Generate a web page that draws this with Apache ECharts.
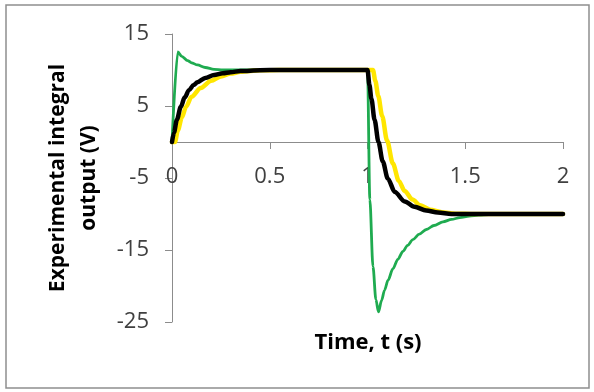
<!DOCTYPE html>
<html>
<head>
<meta charset="utf-8">
<script src="https://cdn.jsdelivr.net/npm/echarts@6/dist/echarts.min.js"></script>
<style>
  html, body { margin: 0; padding: 0; background: #fff; }
  #chart { width: 594px; height: 392px; }
</style>
</head>
<body>
<div id="chart"></div>
<script>
// Integrator step response: times (s) and outputs (V) for each trace
const greenT = [0, 0.03, 0.05, 0.08, 0.1, 0.13, 0.17, 0.215, 0.26, 0.3, 0.5, 1.0,
  1.012, 1.028, 1.043, 1.056, 1.072, 1.087, 1.105, 1.13, 1.155, 1.181,
  1.205, 1.232, 1.265, 1.301, 1.34, 1.386, 1.43, 1.472, 1.52, 1.57, 1.62, 1.7, 2.0];
const greenV = [0, 12.5, 11.9, 11.3, 11.0, 10.7, 10.35, 10.1, 10.03, 10.0, 10.0, 10.0,
  -8.0, -17.3, -21.9, -23.6, -22.0, -20.6, -19.2, -17.6, -16.3, -15.2,
  -14.35, -13.55, -12.8, -12.15, -11.6, -11.1, -10.75, -10.5, -10.3, -10.17, -10.08, -10.02, -10.0];

const yellowT = [0, 0.015, 0.03, 0.05, 0.072, 0.1, 0.147, 0.2, 0.25, 0.3, 0.35, 0.45, 0.55, 1.0,
  1.028, 1.04, 1.055, 1.075, 1.1, 1.13, 1.16, 1.19, 1.23, 1.27, 1.32, 1.38, 1.45, 1.55, 2.0];
const yellowV = [0, 0, 1.6, 3.4, 4.9, 6.3, 7.5, 8.5, 9.1, 9.5, 9.75, 9.95, 10.0, 10.0,
  10.0, 8.5, 6.4, 3.6, 0.2, -3.0, -5.4, -6.8, -8.0, -8.8, -9.4, -9.75, -9.95, -10.0, -10.0];

const blackT = [0, 0.01, 0.025, 0.045, 0.065, 0.087, 0.11, 0.13, 0.17, 0.215, 0.26, 0.3, 0.35, 0.45, 0.55, 1.0,
  1.01, 1.02, 1.036, 1.056, 1.078, 1.104, 1.14, 1.19, 1.24, 1.3, 1.36, 1.43, 2.0];
const blackV = [0, 1.3, 3.1, 4.9, 6.2, 7.2, 7.9, 8.3, 8.9, 9.3, 9.55, 9.7, 9.85, 9.97, 10.0, 10.0,
  7.9, 6.0, 3.1, 0, -2.7, -5.1, -6.95, -8.25, -9.0, -9.5, -9.8, -10.0, -10.0];

// Axis ticks
const xTicks = [0, 0.5, 1, 1.5, 2];
const yTicks = [15, 5, -5, -15, -25];

const xTitle = 'Time, t (s)';
const yTitleLines = ['Experimental integral', 'output (V)'];

const pairs = (t, v) => t.map((x, i) => [x, v[i]]);

const FONT = '"Open Sans"';
const GRID = { left: 172, right: 31, top: 34, bottom: 70 };
const yMin = yTicks[yTicks.length - 1];
const yMax = yTicks[0];
// the time axis crosses the value axis at 0 V
const plotH = 392 - GRID.top - GRID.bottom;
const xAxisOffset = -((0 - yMin) / (yMax - yMin)) * plotH;

const chart = echarts.init(document.getElementById('chart'), null, { renderer: 'canvas' });

const lineSeries = (name, t, v, color, width, z) => ({
  name, type: 'line', data: pairs(t, v), showSymbol: false,
  smooth: 0.3, smoothMonotone: 'x',
  lineStyle: { color, width, cap: 'round', join: 'round' }, z
});

chart.setOption({
  animation: false,
  backgroundColor: '#ffffff',
  grid: Object.assign({ containLabel: false }, GRID),
  xAxis: {
    type: 'value',
    position: 'bottom',
    offset: xAxisOffset,
    min: xTicks[0],
    max: xTicks[xTicks.length - 1],
    interval: 0.5,
    axisLine: { onZero: false, lineStyle: { color: '#8c8c8c', width: 1 } },
    axisTick: { show: true, inside: false, length: 7, lineStyle: { color: '#8c8c8c' } },
    axisLabel: { margin: 24, fontFamily: FONT, fontSize: 22, color: '#404040' },
    splitLine: { show: false }
  },
  yAxis: {
    type: 'value',
    min: yMin,
    max: yMax,
    interval: 10,
    axisLine: { show: true, onZero: false, lineStyle: { color: '#8c8c8c', width: 1 } },
    axisTick: { show: true, inside: false, length: 7, lineStyle: { color: '#8c8c8c' } },
    axisLabel: { margin: 23, fontFamily: FONT, fontSize: 22, color: '#404040' },
    splitLine: { show: false }
  },
  graphic: [
    {
      type: 'rect',
      shape: { x: 6, y: 5, width: 583, height: 383 },
      style: { fill: 'none', stroke: '#8e8e8e', lineWidth: 1.5 },
      silent: true
    },
    {
      type: 'text',
      x: 368, y: 343,
      style: {
        text: xTitle, fontFamily: FONT, fontWeight: 'bold', fontSize: 22,
        fill: '#000', align: 'center', verticalAlign: 'middle'
      }
    },
    {
      type: 'text',
      x: 74, y: 178,
      rotation: Math.PI / 2,
      style: {
        text: yTitleLines.join('\n'), fontFamily: FONT, fontWeight: 'bold', fontSize: 21,
        lineHeight: 31, fill: '#000', align: 'center', verticalAlign: 'middle'
      }
    }
  ],
  series: [
    lineSeries('green', greenT, greenV, '#1fab50', 2.8, 2),
    lineSeries('yellow', yellowT, yellowV, '#ffe600', 4.5, 3),
    lineSeries('black', blackT, blackV, '#000000', 4.5, 4)
  ]
});
</script>
</body>
</html>
